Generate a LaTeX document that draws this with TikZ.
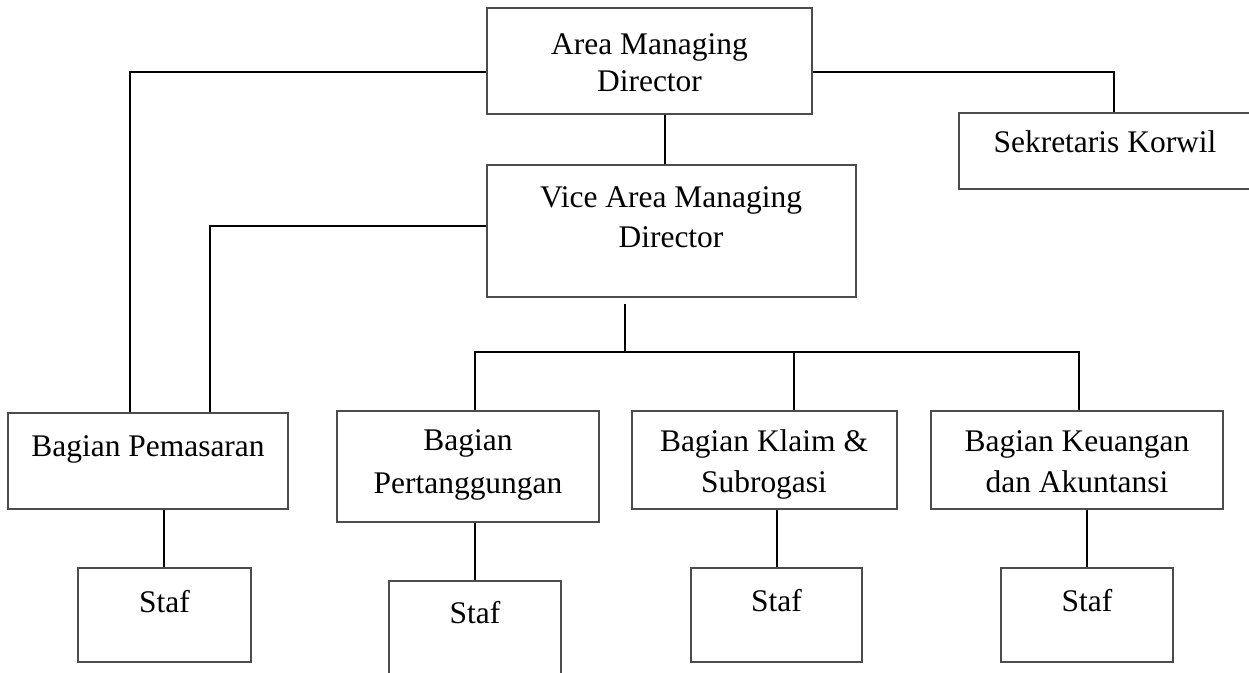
\documentclass[tikz,border=0pt]{standalone}
\usepackage{fontspec}
\setmainfont{Liberation Serif}
\usetikzlibrary{fit}
\begin{document}
\begin{tikzpicture}[x=0.75pt,y=-0.75pt,
  box/.style={draw=black!70,line width=0.9pt,inner sep=0pt,rectangle},
  txt/.style={inner sep=0pt,anchor=base,font=\fontsize{23.6}{28}\selectfont},
  conn/.style={line width=1.9pt,black}]
\clip (0,0) rectangle (1249,673);
% boxes
\node[box,fit={(487,8) (812,114)}] (amd) {};
\node[box,fit={(487,165) (856,297)}] (vamd) {};
\node[box,fit={(959,113) (1253,189)}] (sek) {};
\node[box,fit={(8,413) (288,509)}] (pem) {};
\node[box,fit={(337,411) (599,522)}] (pt) {};
\node[box,fit={(632,411) (897,509)}] (kl) {};
\node[box,fit={(931,411) (1223,509)}] (keu) {};
\node[box,fit={(78,568) (251,662)}] (s1) {};
\node[box,fit={(389,581) (561,700)}] (s2) {};
\node[box,fit={(691,568) (862,662)}] (s3) {};
\node[box,fit={(1001,568) (1173,662)}] (s4) {};
% texts
\node[txt] (amdA) at (649.5,55) {Area Managing};
\node[txt] (amdB) at (649.5,92) {Director};
\node[txt] (vamdA) at (671,208) {Vice Area Managing};
\node[txt] (vamdB) at (671,248) {Director};
\node[txt] (sekA) at (1105,153) {Sekretaris Korwil};
\node[txt] (pemA) at (148,456) {Bagian Pemasaran};
\node[txt] (ptA) at (468,450) {Bagian};
\node[txt] (ptB) at (468,493) {Pertanggungan};
\node[txt] (klA) at (764,451) {Bagian Klaim \&};
\node[txt] (klB) at (764,492) {Subrogasi};
\node[txt] (keuA) at (1077,451) {Bagian Keuangan};
\node[txt] (keuB) at (1077,492) {dan Akuntansi};
\node[txt] (s1t) at (164.5,612) {Staf};
\node[txt] (s2t) at (475,623) {Staf};
\node[txt] (s3t) at (776.5,611) {Staf};
\node[txt] (s4t) at (1087,611) {Staf};
% junctions
\coordinate (j1) at (130,72);
\coordinate (j2) at (1114,72);
\coordinate (j3) at (665,0);
\coordinate (j4) at (210,226);
\coordinate (j5) at (625,352);
\coordinate (h1) at (475,352);
\coordinate (h2) at (794,352);
\coordinate (h3) at (1079,352);
\coordinate (d1) at (164,0);
\coordinate (d2) at (475,0);
\coordinate (d3) at (777,0);
\coordinate (d4) at (1087,0);
% connectors
\draw[conn] (amd.west |- j1) -- (j1) -- (j1 |- pem.north);
\draw[conn] (amd.east |- j2) -- (j2) -- (j2 |- sek.north);
\draw[conn] (j3 |- amd.south) -- (j3 |- vamd.north);
\draw[conn] (vamd.west |- j4) -- (j4) -- (j4 |- pem.north);
\draw[conn,shorten <=4.5pt] (j5 |- vamd.south) -- (j5);
\draw[conn] (h1 |- pt.north) -- (h1) -- (h3) -- (h3 |- keu.north);
\draw[conn] (h2) -- (h2 |- kl.north);
\draw[conn] (d1 |- pem.south) -- (d1 |- s1.north);
\draw[conn] (d2 |- pt.south) -- (d2 |- s2.north);
\draw[conn] (d3 |- kl.south) -- (d3 |- s3.north);
\draw[conn] (d4 |- keu.south) -- (d4 |- s4.north);
\end{tikzpicture}
\end{document}
